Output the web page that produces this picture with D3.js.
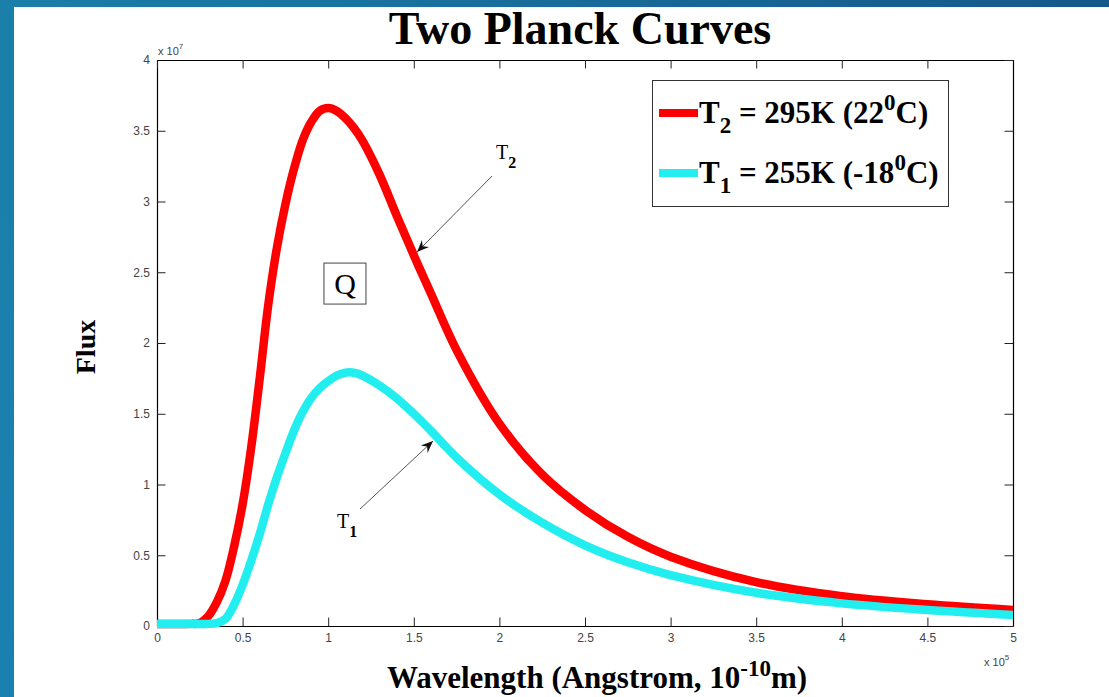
<!DOCTYPE html>
<html>
<head>
<meta charset="utf-8">
<script src="https://cdn.jsdelivr.net/npm/d3@7"></script>
<style>
  body { margin: 0; background: #fff; }
  svg { display: block; }
</style>
</head>
<body>
<svg id="chart"></svg>
<script>
var chartWidth = 1109;
var chartHeight = 697;

/********
 * Data *
 ********/

// wavelength in Angstrom
var wavelength = [0, 10000, 20000, 25000, 30000, 35000, 40000, 45000, 50000, 55000,
  60000, 65000, 70000, 75000, 80000, 85000, 90000, 95000, 100000, 105000,
  110000, 115000, 120000, 130000, 140000, 150000, 160000, 175000, 200000, 225000,
  250000, 275000, 300000, 350000, 400000, 450000, 500000];

// flux, T2 = 295K
var fluxT2 = [0.015e7, 0.015e7, 0.015e7, 0.02e7, 0.07e7, 0.17e7, 0.32e7, 0.56e7, 0.86e7, 1.26e7,
  1.75e7, 2.27e7, 2.67e7, 2.98e7, 3.23e7, 3.43e7, 3.56e7, 3.64e7, 3.66e7, 3.64e7,
  3.59e7, 3.52e7, 3.43e7, 3.19e7, 2.90e7, 2.62e7, 2.35e7, 1.95e7, 1.43e7, 1.07e7,
  0.82e7, 0.63e7, 0.49e7, 0.31e7, 0.21e7, 0.153e7, 0.113e7];

// flux, T1 = 255K
var fluxT1 = [0.015e7, 0.015e7, 0.015e7, 0.015e7, 0.015e7, 0.02e7, 0.05e7, 0.15e7, 0.29e7, 0.46e7,
  0.65e7, 0.86e7, 1.05e7, 1.22e7, 1.38e7, 1.51e7, 1.61e7, 1.68e7, 1.73e7, 1.77e7,
  1.79e7, 1.79e7, 1.77e7, 1.70e7, 1.61e7, 1.50e7, 1.38e7, 1.19e7, 0.93e7, 0.73e7,
  0.57e7, 0.45e7, 0.36e7, 0.235e7, 0.16e7, 0.113e7, 0.078e7];

var xTickValues = [0, 50000, 100000, 150000, 200000, 250000, 300000, 350000, 400000, 450000, 500000];
var xTickLabels = ["0", "0.5", "1", "1.5", "2", "2.5", "3", "3.5", "4", "4.5", "5"];
var yTickValues = [0, 0.5e7, 1e7, 1.5e7, 2e7, 2.5e7, 3e7, 3.5e7, 4e7];
var yTickLabels = ["0", "0.5", "1", "1.5", "2", "2.5", "3", "3.5", "4"];

var legendNames = [
  { t: "T", sub: "2", mid: " = 295K (22", sup: "0", end: "C)" },
  { t: "T", sub: "1", mid: " = 255K (-18", sup: "0", end: "C)" }
];
var seriesColors = ["#ff0000", "#22eef0"];

// annotations in data units
var annotations = [
  { sub: "2", label: [198000, 3.30e7], from: [195700, 3.18e7], to: [151900, 2.643e7] },
  { sub: "1", label: [105100, 0.693e7], from: [118600, 0.827e7], to: [161200, 1.307e7] }
];
var qLabel = [109800, 2.42e7];

/**********
 * Scales *
 **********/

var x = d3.scaleLinear().domain([0, 500000]).range([157, 1013]);
var y = d3.scaleLinear().domain([0, 4e7]).range([626, 60]);

var svg = d3.select("#chart")
  .attr("width", chartWidth)
  .attr("height", chartHeight);

var defs = svg.append("defs");
var grad = defs.append("linearGradient")
  .attr("id", "bg")
  .attr("x1", "0%").attr("y1", "100%")
  .attr("x2", "100%").attr("y2", "0%");
grad.append("stop").attr("offset", "0%").attr("stop-color", "#1a80b0");
grad.append("stop").attr("offset", "50%").attr("stop-color", "#1a7fa9");
grad.append("stop").attr("offset", "100%").attr("stop-color", "#15588a");

defs.append("marker")
  .attr("id", "arrow")
  .attr("markerUnits", "userSpaceOnUse")
  .attr("viewBox", "-12 -6 14 12")
  .attr("refX", 0).attr("refY", 0)
  .attr("markerWidth", 14).attr("markerHeight", 12)
  .attr("orient", "auto")
  .append("path")
  .attr("d", "M0,0 L-12,-5 L-8,0 L-12,5 Z")
  .attr("fill", "#111");

// slide background + white panel
svg.append("rect").attr("width", chartWidth).attr("height", chartHeight).attr("fill", "url(#bg)");
svg.append("rect").attr("x", 14).attr("y", 7)
  .attr("width", chartWidth - 14).attr("height", chartHeight - 7)
  .attr("fill", "#ffffff");

/********
 * Axes *
 ********/

function fmtX(d) { return xTickLabels[xTickValues.indexOf(d)]; }
function fmtY(d) { return yTickLabels[yTickValues.indexOf(d)]; }

svg.append("g")
  .attr("class", "axis")
  .attr("transform", "translate(0," + y(0) + ")")
  .call(d3.axisBottom(x).tickValues(xTickValues).tickFormat(fmtX)
    .tickSizeInner(-8.5).tickSizeOuter(0).tickPadding(7));

svg.append("g")
  .attr("class", "axis")
  .attr("transform", "translate(" + x(0) + ",0)")
  .call(d3.axisLeft(y).tickValues(yTickValues).tickFormat(fmtY)
    .tickSizeInner(-8.5).tickSizeOuter(0).tickPadding(7));

svg.append("g")
  .attr("class", "axis")
  .attr("transform", "translate(0," + y(4e7) + ")")
  .call(d3.axisTop(x).tickValues(xTickValues).tickFormat("")
    .tickSizeInner(-8.5).tickSizeOuter(0));

svg.append("g")
  .attr("class", "axis")
  .attr("transform", "translate(" + x(500000) + ",0)")
  .call(d3.axisRight(y).tickValues(yTickValues).tickFormat("")
    .tickSizeInner(-8.5).tickSizeOuter(0));

svg.selectAll(".axis path.domain").attr("stroke", "#000").attr("stroke-width", 1.2);
svg.selectAll(".axis line").attr("stroke", "#222");
svg.selectAll(".axis text")
  .attr("font-family", "'Liberation Sans', Arial, sans-serif")
  .attr("font-size", "12px")
  .attr("fill", "#444");

// exponent labels
var expY = svg.append("text")
  .attr("x", 158).attr("y", 55)
  .attr("font-family", "'Liberation Sans', Arial, sans-serif")
  .attr("font-size", "11px").attr("fill", "#444");
expY.append("tspan").text("x 10");
expY.append("tspan").attr("dy", -6).attr("font-size", "8px").text("7");

var expX = svg.append("text")
  .attr("x", 984).attr("y", 666)
  .attr("font-family", "'Liberation Sans', Arial, sans-serif")
  .attr("font-size", "11px").attr("fill", "#444");
expX.append("tspan").text("x 10");
expX.append("tspan").attr("dy", -6).attr("font-size", "8px").text("5");

/*********
 * Lines *
 *********/

var line = d3.line()
  .x(function(d) { return x(d[0]); })
  .y(function(d) { return y(d[1]); })
  .curve(d3.curveCatmullRom.alpha(0.5));

var series = [fluxT2, fluxT1];
series.forEach(function(vals, i) {
  svg.append("path")
    .datum(wavelength.map(function(w, j) { return [w, vals[j]]; }))
    .attr("fill", "none")
    .attr("stroke", seriesColors[i])
    .attr("stroke-width", 8.5)
    .attr("stroke-linejoin", "round")
    .attr("d", line);
});

/**********
 * Titles *
 **********/

svg.append("text")
  .attr("x", 580).attr("y", 44)
  .attr("text-anchor", "middle")
  .attr("font-family", "'Liberation Serif', 'Times New Roman', serif")
  .attr("font-weight", "bold")
  .attr("font-size", "46px")
  .attr("fill", "#000")
  .text("Two Planck Curves");

var xl = svg.append("text")
  .attr("x", 597).attr("y", 688)
  .attr("text-anchor", "middle")
  .attr("font-family", "'Liberation Serif', 'Times New Roman', serif")
  .attr("font-weight", "bold")
  .attr("font-size", "31px")
  .attr("fill", "#000");
xl.append("tspan").text("Wavelength (Angstrom, 10");
xl.append("tspan").attr("dy", -12).attr("font-size", "23px").text("-10");
xl.append("tspan").attr("dy", 12).text("m)");

svg.append("text")
  .attr("transform", "translate(95,347) rotate(-90)")
  .attr("text-anchor", "middle")
  .attr("font-family", "'Liberation Serif', 'Times New Roman', serif")
  .attr("font-weight", "bold")
  .attr("font-size", "28px")
  .attr("fill", "#000")
  .text("Flux");

/**********
 * Legend *
 **********/

var legend = svg.append("g");
legend.append("rect")
  .attr("x", 652.5).attr("y", 80.5)
  .attr("width", 296).attr("height", 126)
  .attr("fill", "#fff").attr("stroke", "#333").attr("stroke-width", 1);

legendNames.forEach(function(d, i) {
  var ly = 113 + i * 60;
  legend.append("line")
    .attr("x1", 659).attr("x2", 698)
    .attr("y1", ly).attr("y2", ly)
    .attr("stroke", seriesColors[i]).attr("stroke-width", 8);
  var t = legend.append("text")
    .attr("x", 699).attr("y", ly + 10)
    .attr("font-family", "'Liberation Serif', 'Times New Roman', serif")
    .attr("font-weight", "bold")
    .attr("font-size", "31px")
    .attr("fill", "#000");
  t.append("tspan").text(d.t);
  t.append("tspan").attr("dy", 10).attr("font-size", "23px").text(d.sub);
  t.append("tspan").attr("dy", -10).text(d.mid);
  t.append("tspan").attr("dy", -13).attr("font-size", "23px").text(d.sup);
  t.append("tspan").attr("dy", 13).text(d.end);
});

/***************
 * Annotations *
 ***************/

annotations.forEach(function(a) {
  svg.append("line")
    .attr("x1", x(a.from[0])).attr("y1", y(a.from[1]))
    .attr("x2", x(a.to[0])).attr("y2", y(a.to[1]))
    .attr("stroke", "#555").attr("stroke-width", 1)
    .attr("marker-end", "url(#arrow)");
  var t = svg.append("text")
    .attr("x", x(a.label[0])).attr("y", y(a.label[1]))
    .attr("font-family", "'Liberation Serif', 'Times New Roman', serif")
    .attr("font-size", "20px")
    .attr("fill", "#000");
  t.append("tspan").text("T");
  t.append("tspan").attr("dy", 9).attr("font-size", "16px").attr("font-weight", "bold").text(a.sub);
});

var qx = x(qLabel[0]), qy = y(qLabel[1]);
svg.append("rect")
  .attr("x", qx - 21).attr("y", qy - 20.5)
  .attr("width", 42).attr("height", 41)
  .attr("fill", "#fff").attr("stroke", "#444").attr("stroke-width", 1);
svg.append("text")
  .attr("x", qx).attr("y", qy + 10)
  .attr("text-anchor", "middle")
  .attr("font-family", "'Liberation Serif', 'Times New Roman', serif")
  .attr("font-size", "30px")
  .attr("fill", "#000")
  .text("Q");
</script>
</body>
</html>
